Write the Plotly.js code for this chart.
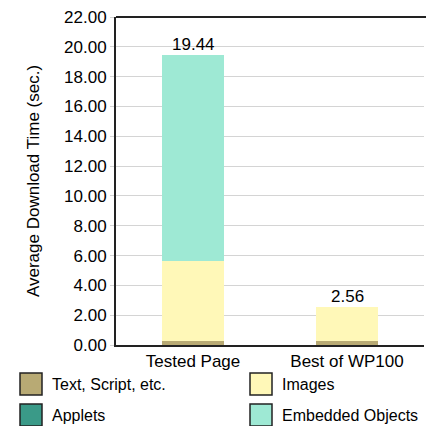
<!DOCTYPE html>
<html><head><meta charset="utf-8">
<script src="https://cdn.plot.ly/plotly-3.0.1.min.js"></script>
<style>html,body{margin:0;padding:0;background:#fff;}#chart{width:426px;height:426px;}</style>
</head><body><div id="chart"></div>
<script>
const categories = ["Tested Page", "Best of WP100"];
const seriesNames = ["Text, Script, etc.", "Images", "Applets", "Embedded Objects"];
const seriesColors = ["#b8aa74", "#fff8b8", "#3a9a88", "#9ee9d4"];
const textScript = [0.25, 0.30];
const images = [5.41, 2.26];
const applets = [0, 0];
const embedded = [13.78, 0];
const totals = [19.44, 2.56];
const yTicks = [0,2,4,6,8,10,12,14,16,18,20,22];

const values = [textScript, images, applets, embedded];
const font = "Liberation Sans, Arial, sans-serif";
const fs = 17;
const traces = values.map((v, i) => ({
  type: "bar", x: categories, y: v, name: seriesNames[i],
  marker: {color: seriesColors[i], line: {width: 0}},
  width: 0.4, showlegend: false, hoverinfo: "none"
}));

const annotations = categories.map((c, i) => ({
  x: c, y: totals[i], xref: "x", yref: "y", text: totals[i].toFixed(2),
  showarrow: false, yanchor: "bottom", yshift: -1,
  font: {family: font, size: fs, color: "#000"}
}));
const shapes = [];
// legend (2 columns x 2 rows)
const legPos = [[20, 373], [250, 373], [20, 404], [250, 404]];
seriesNames.forEach((n, i) => {
  const [px, py] = legPos[i];
  shapes.push({type: "rect", xref: "paper", yref: "paper",
    x0: (px - 116) / 308, x1: (px + 22 - 116) / 308,
    y0: (345 - py - 22) / 328, y1: (345 - py) / 328,
    fillcolor: seriesColors[i], line: {color: "#222", width: 1.5}});
  annotations.push({xref: "paper", yref: "paper", x: (px + 30 - 116) / 308, y: (345 - py - 11) / 328,
    xanchor: "left", yanchor: "middle", showarrow: false, text: n,
    font: {family: font, size: 16, color: "#000"}});
});
// top frame line
shapes.push({type: "line", xref: "paper", yref: "paper", x0: 0, x1: 1.01, y0: 1, y1: 1,
  line: {color: "#222", width: 2}});

const layout = {
  width: 426, height: 426,
  margin: {l: 116, r: 2, t: 17, b: 81},
  paper_bgcolor: "#fff", plot_bgcolor: "#fff",
  barmode: "stack",
  showlegend: false,
  xaxis: {type: "category", range: [-0.5, 1.5], showgrid: false, zeroline: false,
    showline: true, linecolor: "#222", linewidth: 2, ticks: "",
    tickfont: {family: font, size: fs, color: "#000"}, fixedrange: true},
  yaxis: {range: [0, 22], tickvals: yTicks, ticktext: yTicks.map(v => v.toFixed(2)),
    showgrid: true, gridcolor: "#d4d4d4", gridwidth: 1, zeroline: false,
    showline: true, linecolor: "#222", linewidth: 2,
    ticks: "outside", ticklen: 4, tickcolor: "#d4d4d4",
    tickfont: {family: font, size: fs, color: "#000"},
    title: {text: "Average Download Time (sec.)", font: {family: font, size: fs, color: "#000"}, standoff: 20},
    fixedrange: true},
  shapes: shapes,
  annotations: annotations
};
Plotly.newPlot("chart", traces, layout, {displayModeBar: false, staticPlot: true});
</script></body></html>
